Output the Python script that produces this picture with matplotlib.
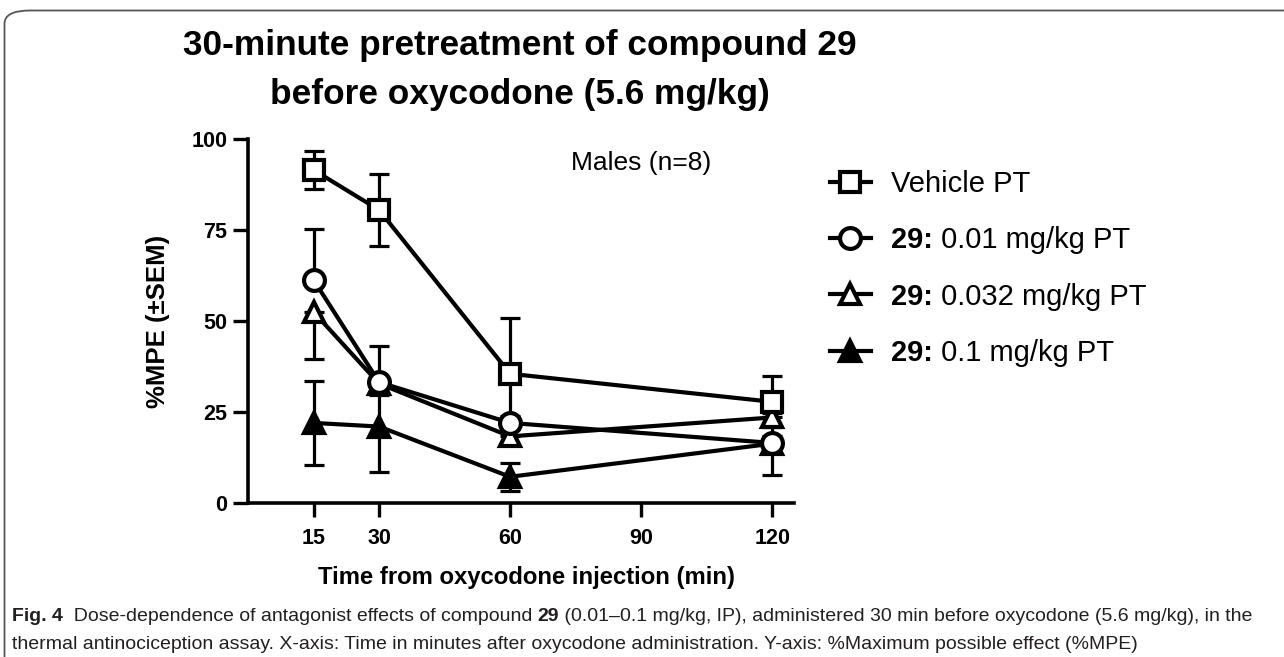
import numpy as np
import matplotlib
matplotlib.use("Agg")
import matplotlib.pyplot as plt
from matplotlib import font_manager
from matplotlib.lines import Line2D
from matplotlib.patches import FancyBboxPatch

plt.rcParams['font.family'] = ['Liberation Sans', 'DejaVu Sans']

# данные (время, среднее, SEM)
times = [15, 30, 60, 120]
vehicle = [91.5, 80.5, 35.5, 27.8]
vehicle_sem = [5.3, 10.0, 15.3, 7.0]
dose_001 = [61.3, 33.2, 22.0, 16.5]
dose_001_sem = [14.0, 10.0, 2.0, 2.0]
dose_0032 = [52.5, 32.8, 18.3, 23.5]
dose_0032_sem = [13.0, 3.0, 2.0, 2.0]
dose_01 = [22.0, 21.0, 7.2, 16.3]
dose_01_sem = [11.5, 12.4, 3.8, 8.5]

# подписи легенды: (жирная часть, обычная часть)
labels = [('', 'Vehicle PT'), ('29:', ' 0.01 mg/kg PT'),
          ('29:', ' 0.032 mg/kg PT'), ('29:', ' 0.1 mg/kg PT')]
x_ticks = [15, 30, 60, 90, 120]
y_ticks = [0, 25, 50, 75, 100]

# (значения, SEM, направление планок, маркер, заливка, размер)
series = [
    (dose_01, dose_01_sem, 'both', '^', 'black', 14),
    (dose_0032, dose_0032_sem, 'down', '^', 'white', 14),
    (dose_001, dose_001_sem, 'up', 'o', 'white', 15),
    (vehicle, vehicle_sem, 'both', 's', 'white', 15),
]

W, H = 1284, 657
fig = plt.figure(figsize=(W / 100, H / 100), dpi=100)

ax = fig.add_axes([248 / W, 1 - 503 / H, (794 - 248) / W, (503 - 139) / H])

for i, (vals, sem, direc, mk, fc, ms) in enumerate(series):
    sem = np.array(sem)
    lo = sem if direc in ('both', 'down') else np.zeros_like(sem)
    hi = sem if direc in ('both', 'up') else np.zeros_like(sem)
    ax.errorbar(times, vals, yerr=[lo, hi], fmt='none', ecolor='black',
                elinewidth=2.3, capsize=7.5, capthick=2.3, zorder=2, clip_on=False)
    ax.plot(times, vals, color='black', lw=3, marker=mk, ms=ms,
            mfc=fc, mec='black', mew=3, zorder=3 + i, clip_on=False)

ax.set_xlim(0, 125)
ax.set_ylim(0, 100)
ax.set_xticks(x_ticks)
ax.set_yticks(y_ticks)
for s in ['top', 'right']:
    ax.spines[s].set_visible(False)
for s in ['left', 'bottom']:
    ax.spines[s].set_linewidth(2.6)
ax.tick_params(axis='both', direction='out', width=2.4, labelsize=15.5)
ax.tick_params(axis='y', length=11, pad=4)
ax.tick_params(axis='x', length=10, pad=8)
for t in ax.get_xticklabels() + ax.get_yticklabels():
    t.set_fontweight('bold')

ax.set_ylabel('%MPE (±SEM)', fontsize=18.5, fontweight='bold')
ax.yaxis.set_label_coords(-0.142, 0.5)
ax.set_xlabel('Time from oxycodone injection (min)', fontsize=17.2, fontweight='bold')
ax.xaxis.set_label_coords(0.51, -0.172)

ax.text(74, 93.5, 'Males (n=8)', fontsize=19, va='center', ha='left')

# легенда
leg_handles = [Line2D([], [], color='black', lw=3, marker=m, ms=ms,
                      mfc=fc, mec='black', mew=3)
               for m, fc, ms in [('s', 'white', 15), ('o', 'white', 15),
                                 ('^', 'white', 14), ('^', 'black', 14)]]
leg = fig.legend(leg_handles, [b + r for b, r in labels], loc='upper left',
                 bbox_to_anchor=(830 / W, 1 - 170 / H), frameon=False,
                 fontsize=21, handlelength=1.4, handletextpad=0.7,
                 labelspacing=0.97, borderpad=0, borderaxespad=0)

# заголовок
fig.text(520 / W, 1 - 70 / H, '30-minute pretreatment of compound 29\nbefore oxycodone (5.6 mg/kg)',
         ha='center', va='center', fontsize=25.4, fontweight='bold', linespacing=1.65)

# рамка
frame = FancyBboxPatch((4.5 / W, -0.2), 1.5, 0.2 + 1 - 10.5 / H,
                       boxstyle='round,pad=0,rounding_size=0.02',
                       transform=fig.transFigure, fill=False,
                       edgecolor='#555555', lw=1.3, clip_on=False)
fig.add_artist(frame)

fig.canvas.draw()
renderer = fig.canvas.get_renderer()


def rich_parts(x, y, parts, size, family, color, va):
    # x, y в пикселях снизу слева
    for txt, weight in parts:
        if not txt:
            continue
        t = fig.text(x / W, y / H, txt, fontsize=size, family=family,
                     fontweight=weight, color=color, va=va, ha='left')
        x += t.get_window_extent(renderer=renderer).width


# жирное «29:» в подписях легенды
for txt_obj, (bold, rest) in zip(leg.get_texts(), labels):
    if not bold:
        continue
    bb = txt_obj.get_window_extent(renderer=renderer)
    txt_obj.set_visible(False)
    rich_parts(bb.x0, (bb.y0 + bb.y1) / 2, [(bold, 'bold'), (rest, 'normal')],
               21, 'Liberation Sans', 'black', 'center')

# подпись
names = {f.name for f in font_manager.fontManager.ttflist}
cap_font = 'Liberation Sans Narrow' if 'Liberation Sans Narrow' in names else 'Liberation Sans'
cap_size = 16 if cap_font == 'Liberation Sans Narrow' else 14

rich_parts(12, H - 621, [('Fig. 4', 'bold'),
                         ('  Dose-dependence of antagonist effects of compound ', 'normal'),
                         ('29', 'bold'),
                         (' (0.01–0.1 mg/kg, IP), administered 30 min before oxycodone (5.6 mg/kg), in the', 'normal')],
           cap_size, cap_font, '#231f20', 'baseline')
rich_parts(12, H - 649, [('thermal antinociception assay. X-axis: Time in minutes after oxycodone administration. '
                          'Y-axis: %Maximum possible effect (%MPE)', 'normal')],
           cap_size, cap_font, '#231f20', 'baseline')

fig.savefig('out.png', dpi=100)
